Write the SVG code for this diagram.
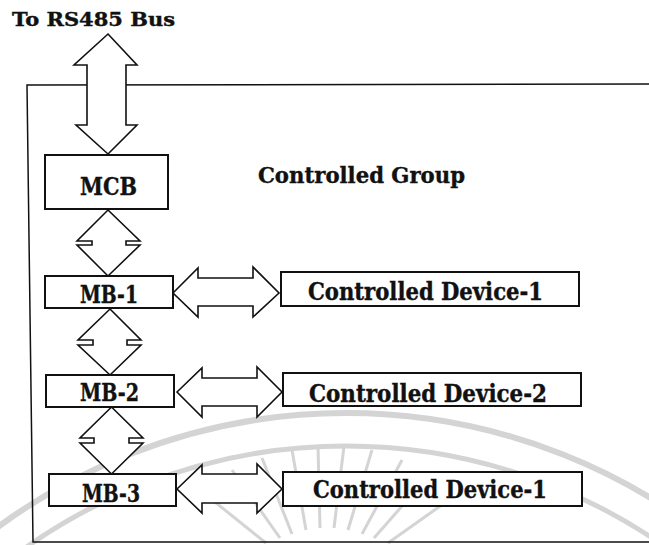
<svg xmlns="http://www.w3.org/2000/svg" width="649" height="545" viewBox="0 0 649 545">
  <style>
    .lbl { font-family: "DejaVu Serif", "Liberation Serif", serif; font-weight: bold; fill: #111; stroke: #111; stroke-width: 0.4; }
    .box { fill: #fff; stroke: #111; stroke-width: 2; }
    .arr { fill: #fff; stroke: #111; stroke-width: 1.6; stroke-linejoin: miter; }
    .frame { fill: none; stroke: #111; stroke-width: 1.5; }
    .wm { fill: none; stroke: #d4d4d4; }
  </style>

  <rect width="649" height="545" fill="#fff"/>

  <!-- faint seal in the background -->
  <g id="seal">
    <circle class="wm" cx="346" cy="1001" r="588" stroke-width="6"/>
    <circle class="wm" cx="346" cy="1001" r="555" stroke-width="5"/>
    <g stroke-width="3" class="wm">
      <line x1="280" y1="538" x2="232" y2="470"/>
      <line x1="292" y1="534" x2="262" y2="458"/>
      <line x1="306" y1="530" x2="292" y2="450"/>
      <line x1="320" y1="528" x2="318" y2="446"/>
      <line x1="334" y1="528" x2="344" y2="446"/>
      <line x1="348" y1="530" x2="372" y2="450"/>
      <line x1="362" y1="534" x2="402" y2="460"/>
      <line x1="374" y1="538" x2="432" y2="472"/>
      <line x1="266" y1="543" x2="200" y2="490"/>
      <line x1="388" y1="543" x2="460" y2="492"/>
    </g>
  </g>

  <!-- controlled group boundary -->
  <g id="controlled-group">
    <path class="frame" d="M649,84 L27,85 L33,542 L649,542"/>
    <text class="lbl" x="258" y="183" font-size="22.5" textLength="207" lengthAdjust="spacingAndGlyphs">Controlled Group</text>
  </g>

  <text id="bus-label" class="lbl" x="12" y="26" font-size="19" textLength="163" lengthAdjust="spacingAndGlyphs">To RS485 Bus</text>

  <!-- connectors: double-headed block arrows -->
  <g id="connectors">
    <polygon class="arr" points="108,34 137,65 126,65 126,125 137,125 108,154 76,125 87,125 87,65 74,65"/>
    <polygon class="arr" points="108,210 140,241 126,241 126,245 140,245 108,276 77,245 92,245 92,241 77,241"/>
    <polygon class="arr" points="110,309 141,340 127,340 127,345 141,345 110,375 78,345 93,345 93,340 78,340"/>
    <polygon class="arr" points="111.5,407 143,438 129,438 129,443 143,443 111.5,474 80,443 94,443 94,438 80,438"/>
    <polygon class="arr" points="173,293 198,268 198,278 253,278 253,267 279,293 253,317 253,306 198,306 198,317"/>
    <polygon class="arr" points="177,392 202,368 202,378 257,378 257,367 282,392 257,417 257,406 202,406 202,417"/>
    <polygon class="arr" points="177,489 202,465 202,474 257,474 257,464 282,489 257,513 257,503 202,503 202,513"/>
  </g>

  <g id="mcb">
    <rect class="box" x="45" y="155" width="123" height="54"/>
    <text class="lbl" x="80" y="195" font-size="24.5" textLength="57" lengthAdjust="spacingAndGlyphs">MCB</text>
  </g>
  <g id="mb-1">
    <rect class="box" x="45" y="276" width="128" height="32"/>
    <text class="lbl" x="80" y="303" font-size="24.5" textLength="58" lengthAdjust="spacingAndGlyphs">MB-1</text>
  </g>
  <g id="mb-2">
    <rect class="box" x="46" y="375" width="128" height="32"/>
    <text class="lbl" x="80" y="401" font-size="24.5" textLength="59" lengthAdjust="spacingAndGlyphs">MB-2</text>
  </g>
  <g id="mb-3">
    <rect class="box" x="49" y="474" width="127" height="32"/>
    <text class="lbl" x="82" y="502" font-size="24.5" textLength="58" lengthAdjust="spacingAndGlyphs">MB-3</text>
  </g>

  <g id="device-1">
    <rect class="box" x="281" y="272" width="298" height="34"/>
    <text class="lbl" x="308" y="300" font-size="23.5" textLength="235" lengthAdjust="spacingAndGlyphs">Controlled Device-1</text>
  </g>
  <g id="device-2">
    <rect class="box" x="283" y="373" width="298" height="33"/>
    <text class="lbl" x="309" y="402" font-size="23.5" textLength="238" lengthAdjust="spacingAndGlyphs">Controlled Device-2</text>
  </g>
  <g id="device-3">
    <rect class="box" x="283" y="472" width="299" height="34"/>
    <text class="lbl" x="313" y="498" font-size="23.5" textLength="234" lengthAdjust="spacingAndGlyphs">Controlled Device-1</text>
  </g>
</svg>
